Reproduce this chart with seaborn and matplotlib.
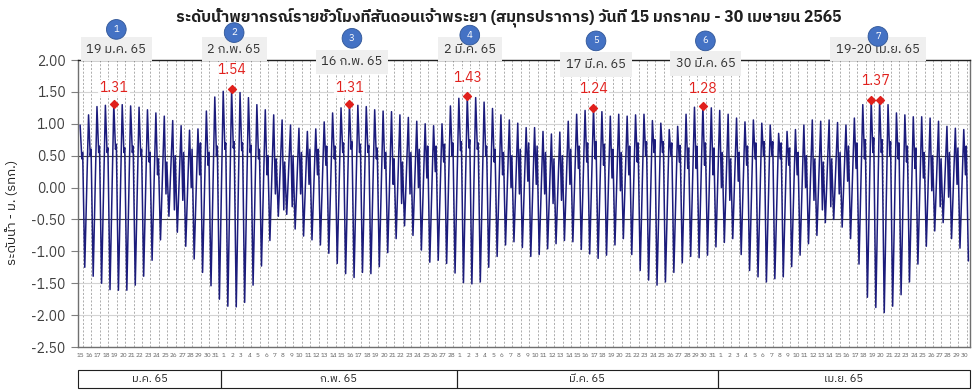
import numpy as np
import pandas as pd
import matplotlib
matplotlib.use("Agg")
import matplotlib.pyplot as plt
import seaborn as sns
from matplotlib import font_manager
from matplotlib.patches import Rectangle
from fontTools.ttLib import TTFont

# ---- data (metres MSL) ----
months = ["ม.ค. 65", "ก.พ. 65", "มี.ค. 65", "เม.ย. 65"]
month_first_day = [15, 1, 1, 1]
month_last_day = [31, 28, 31, 30]

# daily higher high water
hh_jan = [0.98, 1.14, 1.27, 1.29, 1.31, 1.30, 1.28, 1.26, 1.22, 1.17, 1.12, 1.05, 0.97, 0.90, 0.92, 1.20, 1.42]
hh_feb = [1.51, 1.54, 1.49, 1.41, 1.30, 1.22, 1.14, 1.06, 0.98, 0.93, 0.88, 0.92, 1.03, 1.17, 1.25, 1.31,
          1.29, 1.27, 1.22, 1.20, 1.19, 1.14, 1.10, 1.04, 1.00, 0.97, 1.00, 1.28]
hh_mar = [1.40, 1.43, 1.41, 1.34, 1.24, 1.14, 1.06, 1.01, 0.94, 0.94, 0.88, 0.84, 0.87, 1.04, 1.15, 1.21,
          1.24, 1.19, 1.12, 1.15, 1.12, 1.14, 1.15, 1.05, 1.01, 0.91, 0.96, 1.15, 1.26, 1.28, 1.25]
hh_apr = [1.21, 1.15, 1.09, 1.03, 1.06, 1.01, 0.98, 0.85, 0.88, 0.91, 0.98, 1.06, 1.04, 1.06, 1.02, 0.98,
          1.09, 1.30, 1.37, 1.37, 1.30, 1.17, 1.14, 1.11, 1.11, 1.09, 1.04, 0.96, 0.93, 0.91]

# secondary low (after the main high)
sl_jan = [0.45, 0.50, 0.55, 0.55, 0.60, 0.55, 0.55, 0.50, 0.40, 0.20, -0.10, -0.35, -0.20, 0.00, 0.20, 0.35, 0.50]
sl_feb = [0.60, 0.62, 0.58, 0.55, 0.45, 0.20, -0.10, -0.35, -0.30, -0.10, 0.05, 0.20, 0.35, 0.45, 0.55, 0.60,
          0.55, 0.55, 0.45, 0.30, 0.05, -0.25, -0.10, 0.00, 0.15, 0.25, 0.40, 0.50]
sl_mar = [0.58, 0.62, 0.60, 0.50, 0.40, 0.20, 0.00, -0.10, 0.10, 0.05, -0.10, -0.25, -0.20, 0.05, 0.30, 0.40,
          0.45, 0.35, 0.15, -0.05, 0.20, 0.40, 0.50, 0.55, 0.55, 0.50, 0.40, 0.30, 0.30, 0.35, 0.20]
sl_apr = [0.00, -0.20, 0.10, 0.35, 0.45, 0.50, 0.50, 0.45, 0.35, 0.20, 0.00, -0.20, -0.35, -0.30, -0.10, 0.10,
          0.30, 0.45, 0.55, 0.55, 0.50, 0.45, 0.40, 0.30, 0.15, -0.05, -0.30, -0.15, 0.05, 0.20]

# secondary high
sh_jan = [0.55, 0.60, 0.65, 0.62, 0.68, 0.62, 0.65, 0.60, 0.55, 0.45, 0.40, 0.50, 0.55, 0.60, 0.70, 0.55, 0.65]
sh_feb = [0.70, 0.72, 0.70, 0.66, 0.60, 0.50, 0.45, 0.40, 0.50, 0.55, 0.60, 0.60, 0.65, 0.65, 0.70, 0.72,
          0.68, 0.66, 0.62, 0.55, 0.45, 0.40, 0.55, 0.60, 0.65, 0.65, 0.68, 0.70]
sh_mar = [0.72, 0.75, 0.70, 0.65, 0.60, 0.55, 0.50, 0.60, 0.70, 0.65, 0.55, 0.45, 0.50, 0.60, 0.65, 0.70,
          0.72, 0.68, 0.60, 0.55, 0.65, 0.70, 0.72, 0.75, 0.72, 0.70, 0.66, 0.62, 0.65, 0.70, 0.62]
sh_apr = [0.55, 0.45, 0.55, 0.65, 0.70, 0.72, 0.72, 0.70, 0.62, 0.55, 0.50, 0.45, 0.40, 0.45, 0.55, 0.65,
          0.70, 0.75, 0.78, 0.75, 0.72, 0.70, 0.65, 0.62, 0.55, 0.50, 0.45, 0.55, 0.62, 0.65]

# daily lower low water
ll_jan = [-1.25, -1.39, -1.50, -1.60, -1.61, -1.61, -1.53, -1.39, -1.14, -0.82, -0.45, -0.70, -0.92, -1.12,
          -1.33, -1.54, -1.75]
ll_feb = [-1.86, -1.87, -1.80, -1.53, -1.23, -0.83, -0.45, -0.42, -0.65, -0.76, -0.82, -0.90, -1.03, -1.19,
          -1.35, -1.41, -1.33, -1.35, -1.24, -1.02, -0.80, -0.60, -0.75, -0.98, -1.17, -1.14, -1.19, -1.34]
ll_mar = [-1.49, -1.51, -1.48, -1.25, -1.08, -0.90, -0.85, -0.94, -1.08, -1.05, -0.96, -0.88, -0.83, -0.85,
          -0.97, -1.04, -1.11, -1.06, -0.90, -0.80, -1.05, -1.30, -1.45, -1.53, -1.48, -1.33, -1.18, -1.08,
          -1.10, -1.06, -0.93]
ll_apr = [-0.86, -0.80, -1.05, -1.30, -1.40, -1.48, -1.43, -1.40, -1.24, -1.06, -0.88, -0.75, -0.55, -0.50,
          -0.62, -0.80, -1.20, -1.72, -1.88, -1.96, -1.86, -1.68, -1.48, -1.20, -0.92, -0.68, -0.55, -0.80,
          -0.95, -1.15]

# highlighted peaks: day index from 15 Jan, and the callout text
peak_days = [4, 18, 32, 46, 61, 74, 94, 95]
callout_days = [4, 18, 32, 46, 61, 74, 94.5]
callout_dates = ["19 ม.ค. 65", "2 ก.พ. 65", "16 ก.พ. 65", "2 มี.ค. 65", "17 มี.ค. 65", "30 มี.ค. 65", "19-20 เม.ย. 65"]
callout_values = ["1.31", "1.54", "1.31", "1.43", "1.24", "1.28", "1.37"]

title = "ระดับน้ำพยากรณ์รายชั่วโมงที่สันดอนเจ้าพระยา (สมุทรปราการ) วันที่ 15 มกราคม - 30 เมษายน 2565"
ylabel = "ระดับน้ำ - ม. (รทก.)"

# ---- assemble ----
hh = hh_jan + hh_feb + hh_mar + hh_apr
sl = sl_jan + sl_feb + sl_mar + sl_apr
sh = sh_jan + sh_feb + sh_mar + sh_apr
ll = ll_jan + ll_feb + ll_mar + ll_apr
n_days = len(hh)

# time of each turning point inside a day (fraction of day)
offsets = [0.25, 0.45, 0.55, 0.80]
rows = []
for i in range(n_days):
    for off, v in zip(offsets, (hh[i], sl[i], sh[i], ll[i])):
        rows.append((i + off, v))
df = pd.DataFrame(rows, columns=["day", "level"])

day_labels = []
month_len = []
for a, b in zip(month_first_day, month_last_day):
    day_labels += [str(d) for d in range(a, b + 1)]
    month_len.append(b - a + 1)


def thai_font():
    found = []
    for f in font_manager.fontManager.ttflist:
        try:
            cmap = TTFont(f.fname, fontNumber=0, lazy=True).getBestCmap()
        except Exception:
            continue
        if cmap and 0x0E01 in cmap and 0x0E33 in cmap:
            found.append(f.name)
    found = sorted(set(found), key=lambda s: ("Sans" not in s, "Looped" in s, s))
    return found[0] if found else None


sns.set_theme(style="white")
fam = thai_font()
plt.rcParams["font.family"] = ([fam] if fam else []) + ["DejaVu Sans"]

fig = plt.figure(figsize=(9.73, 3.91), dpi=100)
ax = fig.add_axes([0.0802, 0.1125, 0.9168, 0.734])

# grid
for i in range(n_days):
    ax.axvline(i + 0.6, color="#a0a0a0", lw=0.6, ls=(0, (2.5, 2)), zorder=0)
ax.set_yticks(np.arange(-2.5, 2.01, 0.5))
ax.yaxis.grid(True, color="#d4d4d4", lw=0.8, zorder=0)
ax.axhline(0.5, color="#404040", lw=0.8, zorder=1)
ax.axhline(-0.5, color="#404040", lw=0.8, zorder=1)

sns.lineplot(data=df, x="day", y="level", ax=ax, color="#1c1c7c", lw=1.1,
             estimator=None, sort=False, zorder=3)

ax.set_xlim(0, n_days)
ax.set_ylim(-2.5, 2.0)
ax.set_yticklabels([f"{v:.2f}" for v in np.arange(-2.5, 2.01, 0.5)], fontsize=10, color="#404040")
ax.tick_params(axis="y", length=5, width=0.8, color="#808080", pad=4, left=True)
ax.set_xticks(np.arange(n_days) + 0.35)
ax.set_xticklabels(day_labels, fontsize=4.6, color="#606060")
ax.tick_params(axis="x", length=0, pad=4)
ax.set_xlabel("")
ax.set_ylabel(ylabel, fontsize=9.5, color="#202020")
ax.yaxis.set_label_coords(-0.066, 0.47)

for side in ["left", "bottom", "right"]:
    ax.spines[side].set_color("#707070")
    ax.spines[side].set_linewidth(1.0)
ax.spines["top"].set_color("#202020")
ax.spines["top"].set_linewidth(1.0)

# month boxes under the axis
trans = ax.get_xaxis_transform()
start = 0
for name, n in zip(months, month_len):
    ax.add_patch(Rectangle((start, -0.143), n, 0.063, transform=trans, fill=False,
                           ec="#202020", lw=0.8, clip_on=False))
    ax.text(start + n / 2, -0.112, name, transform=trans, ha="center", va="center",
            fontsize=8, color="#202020")
    start += n

# peak markers
peak_x = [d + offsets[0] for d in peak_days]
peak_y = [hh[d] for d in peak_days]
ax.scatter(peak_x, peak_y, marker="D", s=16, color="#e0201c", zorder=5)

# callouts
date_y = [2.17, 2.17, 1.97, 2.17, 1.93, 1.95, 2.17]
value_y = [1.56, 1.84, 1.56, 1.72, 1.54, 1.54, 1.67]
circle_y = [2.48, 2.43, 2.34, 2.39, 2.30, 2.30, 2.37]
for k, (d, txt, val) in enumerate(zip(callout_days, callout_dates, callout_values)):
    x = d + offsets[0]
    ax.text(x + 0.3, date_y[k], txt, ha="center", va="center", fontsize=9.3, color="#303030",
            bbox=dict(boxstyle="square,pad=0.45", fc="#efefef", ec="none"), clip_on=False, zorder=6)
    ax.text(x, value_y[k], val, ha="center", va="center", fontsize=10, color="#e0201c",
            clip_on=False, zorder=6,
            bbox=dict(boxstyle="square,pad=0.1", fc="white", ec="none", alpha=0.9))
    ax.text(x + 0.3, circle_y[k], str(k + 1), ha="center", va="center", fontsize=7, color="white",
            bbox=dict(boxstyle="circle,pad=0.55", fc="#4472c4", ec="#2f5597", lw=0.6),
            clip_on=False, zorder=6)

fig.text(0.523, 0.955, title, ha="center", va="center", fontsize=11.3, fontweight="bold",
         color="#202020")

fig.savefig("out.png", dpi=100)
